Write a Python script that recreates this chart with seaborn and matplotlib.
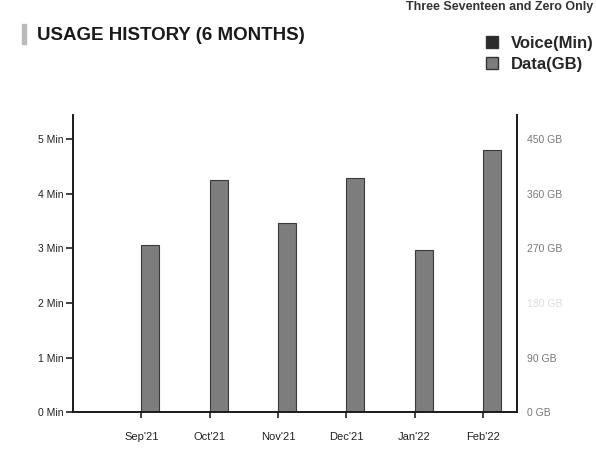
import pandas as pd
import matplotlib.pyplot as plt
import seaborn as sns
from matplotlib.patches import Patch, Rectangle

# Données
months = ["Sep'21", "Oct'21", "Nov'21", "Dec'21", "Jan'22", "Feb'22"]
voice_min = [0, 0, 0, 0, 0, 0]
data_gb = [275, 383, 312, 386, 268, 432]
left_ticks = [0, 1, 2, 3, 4, 5]
right_ticks = [0, 90, 180, 270, 360, 450]
series_names = ["Voice(Min)", "Data(GB)"]

GB_PER_MIN = 90  # 5 Min sur la gauche = 450 GB sur la droite

sns.set_theme(style="white")
plt.rcParams['font.family'] = ['Liberation Sans', 'DejaVu Sans']

# tableau long pour seaborn (tout en échelle "Min" de l'axe gauche)
df = pd.DataFrame({
    'month': months * 2,
    'series': [series_names[0]] * 6 + [series_names[1]] * 6,
    'value': voice_min + [v / GB_PER_MIN for v in data_gb],
})

fig = plt.figure(figsize=(5.96, 4.63), dpi=100)
ax = fig.add_axes([0.1225, 0.110, 0.745, 0.642])

colors = {"Voice(Min)": "#2b2b2b", "Data(GB)": "#7d7d7d"}
sns.barplot(data=df, x='month', y='value', hue='series', palette=colors,
            width=0.53, dodge=True, edgecolor='#3a3a3a', linewidth=0.8,
            legend=False, ax=ax)

ax.set_xlim(-1.0, 5.5)
ax.set_ylim(0, 5.45)
ax.set_xlabel("")
ax.set_ylabel("")

# axe gauche
ax.set_yticks(left_ticks)
ax.set_yticklabels([f"{t} Min" for t in left_ticks])
ax.tick_params(axis='y', direction='out', length=5, width=1.2, labelsize=7.5,
               colors='#222222', left=True, pad=2)
ax.tick_params(axis='x', direction='out', length=4, width=1.2, labelsize=8,
               colors='#222222', bottom=True, pad=10)

for side in ['left', 'bottom']:
    ax.spines[side].set_color('#1a1a1a')
    ax.spines[side].set_linewidth(1.4)
ax.spines['top'].set_visible(False)
ax.spines['right'].set_visible(False)

# axe droit en GB
ax2 = ax.twinx()
ax2.set_ylim(0, 5.45 * GB_PER_MIN)
ax2.set_yticks(right_ticks)
ax2.set_yticklabels([f"{t} GB" for t in right_ticks])
ax2.tick_params(axis='y', length=0, labelsize=7.5, colors='#777777', pad=7)
ax2.spines['right'].set_color('#1a1a1a')
ax2.spines['right'].set_linewidth(1.4)
for side in ['top', 'left', 'bottom']:
    ax2.spines[side].set_visible(False)
ax2.get_yticklabels()[2].set_color('#dddddd')

# titre, en-tête et légende
fig.add_artist(Rectangle((22 / 596, 1 - 44 / 463), 4 / 596, 20 / 463,
                         transform=fig.transFigure, color='#bbbbbb'))
fig.text(37 / 596, 1 - 35 / 463, "USAGE HISTORY (6 MONTHS)", fontsize=13.5,
         fontweight='bold', color='#1a1a1a', va='center', ha='left')
fig.text(0.995, 1 - 7 / 463, "Three Seventeen and Zero Only", fontsize=9,
         fontweight='bold', color='#333333', va='center', ha='right')

handles = [Patch(facecolor=colors[s], edgecolor='#333333') for s in series_names]
fig.legend(handles, series_names, loc='upper right', bbox_to_anchor=(1.022, 0.955),
           frameon=False, handlelength=0.7, handleheight=0.7,
           handletextpad=0.8, labelspacing=0.35, prop={'weight': 'bold', 'size': 12})

plt.savefig('out.png', dpi=100)
plt.close()
